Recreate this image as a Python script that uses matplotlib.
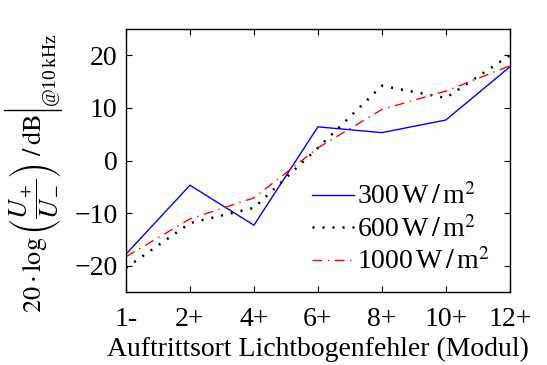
import numpy as np
import matplotlib
matplotlib.use('Agg')
import matplotlib.pyplot as plt
from matplotlib.lines import Line2D

# fonts: serif look like the LaTeX original
plt.rcParams['font.family'] = ['Liberation Serif', 'DejaVu Serif']
plt.rcParams['mathtext.fontset'] = 'stix'

# data
positions = ['1-', '2+', '4+', '6+', '8+', '10+', '12+']
y_300 = [-17.8, -4.7, -12.3, 6.4, 5.3, 7.7, 17.8]
y_600 = [-20.4, -11.9, -9.0, 2.4, 14.2, 11.9, 20.0]
y_1000 = [-18.3, -11.1, -7.1, 2.4, 9.7, 13.2, 18.0]
labels = [r'300$\,$W$\,/\,$m$^2$', r'600$\,$W$\,/\,$m$^2$', r'1000$\,$W$\,/\,$m$^2$']

x = np.arange(1, len(positions) + 1)

fig = plt.figure(figsize=(5.47, 3.65), dpi=100)
ax = fig.add_axes([0.2303, 0.2, 0.7017, 0.7205])

ax.plot(x, y_300, color='#0000ff', linewidth=1.0, label=labels[0])
ax.plot(x, y_600, color='black', linewidth=1.8, linestyle=(0, (0.8, 3.2)), label=labels[1])
ax.plot(x, y_1000, color='#ff0000', linewidth=1.0, linestyle=(0, (7, 4, 1, 4)), label=labels[2])

ax.set_xlim(1, 7)
ax.set_ylim(-25, 25)
ax.set_xticks(x)
ax.set_xticklabels(positions)
ax.set_yticks([-20, -10, 0, 10, 20])
ax.tick_params(direction='in', top=True, right=True, labelsize=20, length=4)
ax.tick_params(axis='x', pad=11)
ax.tick_params(axis='y', pad=6)
for s in ax.spines.values():
    s.set_linewidth(1.0)

ax.set_xlabel('Auftrittsort Lichtbogenfehler (Modul)', fontsize=20, labelpad=3)
ax.set_ylabel(r'$20\cdot\log\left(\dfrac{U_+}{U_-}\right)\ /\,\mathrm{dB}$', fontsize=19)
ax.yaxis.set_label_coords(-0.164, 0.30)

ax.legend(loc='lower right', frameon=False, fontsize=20, handlelength=1.5,
          handletextpad=0.1, labelspacing=0.2, borderaxespad=0.2,
          bbox_to_anchor=(0.99, 0.0))

# evaluation bar |_{@10 kHz} after the unit (thin, like the LaTeX \big|)
fig.canvas.draw()
bb = ax.yaxis.label.get_window_extent(fig.canvas.get_renderer())
W, H = fig.bbox.width, fig.bbox.height
bar_y = (bb.y1 + 3) / H
fig.add_artist(Line2D([(bb.x0 - 3) / W, (bb.x1 - 2) / W], [bar_y, bar_y],
                      color='black', linewidth=1.0, transform=fig.transFigure))
fig.text((bb.x1 - 1) / W, bar_y + 3 / H, r'@10$\,$kHz', fontsize=14,
         rotation=90, ha='right', va='bottom')

fig.savefig('out.png', dpi=100)
